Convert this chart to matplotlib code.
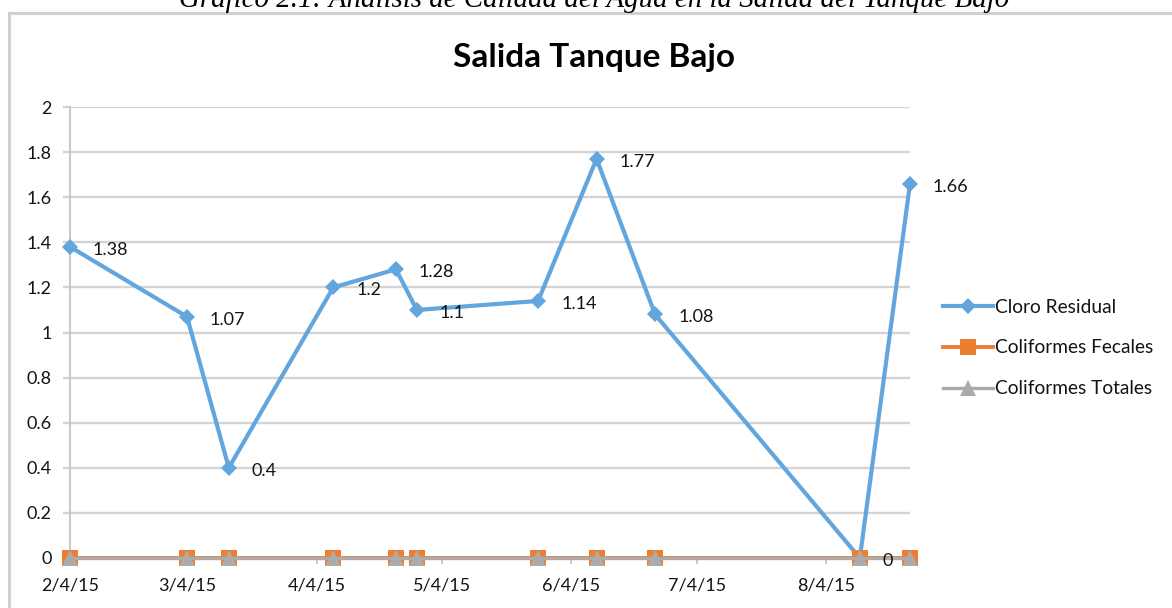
import matplotlib
matplotlib.use('Agg')
import matplotlib.pyplot as plt
import matplotlib.dates as mdates
from matplotlib.lines import Line2D
import numpy as np

plt.rcParams['font.family'] = ['Lato', 'DejaVu Sans']

# ---- data ----
dates = ['2015-02-04', '2015-03-04', '2015-03-14', '2015-04-08', '2015-04-23',
         '2015-04-28', '2015-05-27', '2015-06-10', '2015-06-24', '2015-08-12',
         '2015-08-24']
cloro_residual = [1.38, 1.07, 0.4, 1.2, 1.28, 1.1, 1.14, 1.77, 1.08, 0, 1.66]
coliformes_fecales = [0, 0, 0, 0, 0, 0, 0, 0, 0, 0, 0]
coliformes_totales = [0, 0, 0, 0, 0, 0, 0, 0, 0, 0, 0]
series_names = ['Cloro Residual', 'Coliformes Fecales', 'Coliformes Totales']
y_ticks = [0, 0.2, 0.4, 0.6, 0.8, 1, 1.2, 1.4, 1.6, 1.8, 2]
title = 'Salida Tanque Bajo'
caption = 'Gráfico 2.1: Análisis de Calidad del Agua en la Salida del Tanque Bajo'

x = np.array(dates, dtype='datetime64[D]').astype('datetime64[ms]').astype(object)

W, H = 1172, 608
fig = plt.figure(figsize=(W / 100, H / 100), dpi=100)
ax = fig.add_axes([70 / W, 1 - 558 / H, (910 - 70) / W, (558 - 107) / H])

BLUE = '#62A6DD'
ORANGE = '#ED7D31'
GRAY = '#ABABAB'
GRID = '#d4d4d4'
TXT = '#141414'
FS = 13

ax.plot(x, cloro_residual, color=BLUE, lw=3.0, marker='D', ms=8,
        markeredgewidth=0, zorder=3, label=series_names[0], clip_on=False)
ax.plot(x, coliformes_fecales, color=ORANGE, lw=2.8, marker='s', ms=11.5,
        markeredgewidth=0, zorder=4, label=series_names[1], clip_on=False)
ax.plot(x, coliformes_totales, color=GRAY, lw=2.4, marker='^', ms=11.5,
        markeredgewidth=0, zorder=5, label=series_names[2], clip_on=False)

for xi, yi in zip(x, cloro_residual):
    ax.annotate(f'{yi:g}', (xi, yi), xytext=(23, -3), textcoords='offset pixels',
                ha='left', va='center', fontsize=FS, color=TXT,
                annotation_clip=False, zorder=6)

ax.set_xlim(x[0], x[-1])
ax.set_ylim(0, 2)
ax.set_yticks(y_ticks)
ax.set_yticklabels([f'{v:g}' for v in y_ticks])
ax.yaxis.grid(True, color=GRID, lw=1.7)
ax.set_axisbelow(True)

ax.xaxis.set_major_locator(mdates.MonthLocator(bymonthday=4))
ax.xaxis.set_major_formatter(matplotlib.ticker.FuncFormatter(
    lambda v, p: (lambda d: f'{d.month}/{d.day}/{d.strftime("%y")}')(mdates.num2date(v))))

for s in ['top', 'right']:
    ax.spines[s].set_visible(False)
ax.spines['left'].set_color('#bfbfbf')
ax.spines['left'].set_linewidth(1.2)
ax.spines['bottom'].set_color('#bfbfbf')
ax.spines['bottom'].set_linewidth(1.2)

ax.tick_params(axis='y', length=5, width=1.7, color=GRID, pad=8,
               labelsize=FS, labelcolor=TXT)
ax.tick_params(axis='x', length=4, width=1.2, color='#bfbfbf', pad=10,
               labelsize=FS, labelcolor=TXT)

fig.text(594 / W, 1 - 58 / H, title, ha='center', va='center',
         fontsize=24, fontweight='bold', color='#000000')

fig.text(594 / W, 1 - 7 / H, caption, ha='center', va='baseline',
         fontsize=20.8, style='italic', family=['Liberation Serif', 'DejaVu Serif'],
         color='#000000')

# chart-area border (only left and top visible)
fig.add_artist(Line2D([9.5 / W, 1], [1 - 12.5 / H, 1 - 12.5 / H],
                      transform=fig.transFigure, color='#d0d0d0', lw=2.2))
fig.add_artist(Line2D([9.5 / W, 9.5 / W], [0, 1 - 12.5 / H],
                      transform=fig.transFigure, color='#d0d0d0', lw=2.2))

leg = fig.legend(loc='center left', bbox_to_anchor=(943 / W, 1 - 348 / H),
                 frameon=False, fontsize=13.8, handlelength=2.6, handletextpad=0.1,
                 labelspacing=1.25, borderpad=0, borderaxespad=0)
for t in leg.get_texts():
    t.set_color(TXT)

fig.savefig('out.png', dpi=100)
